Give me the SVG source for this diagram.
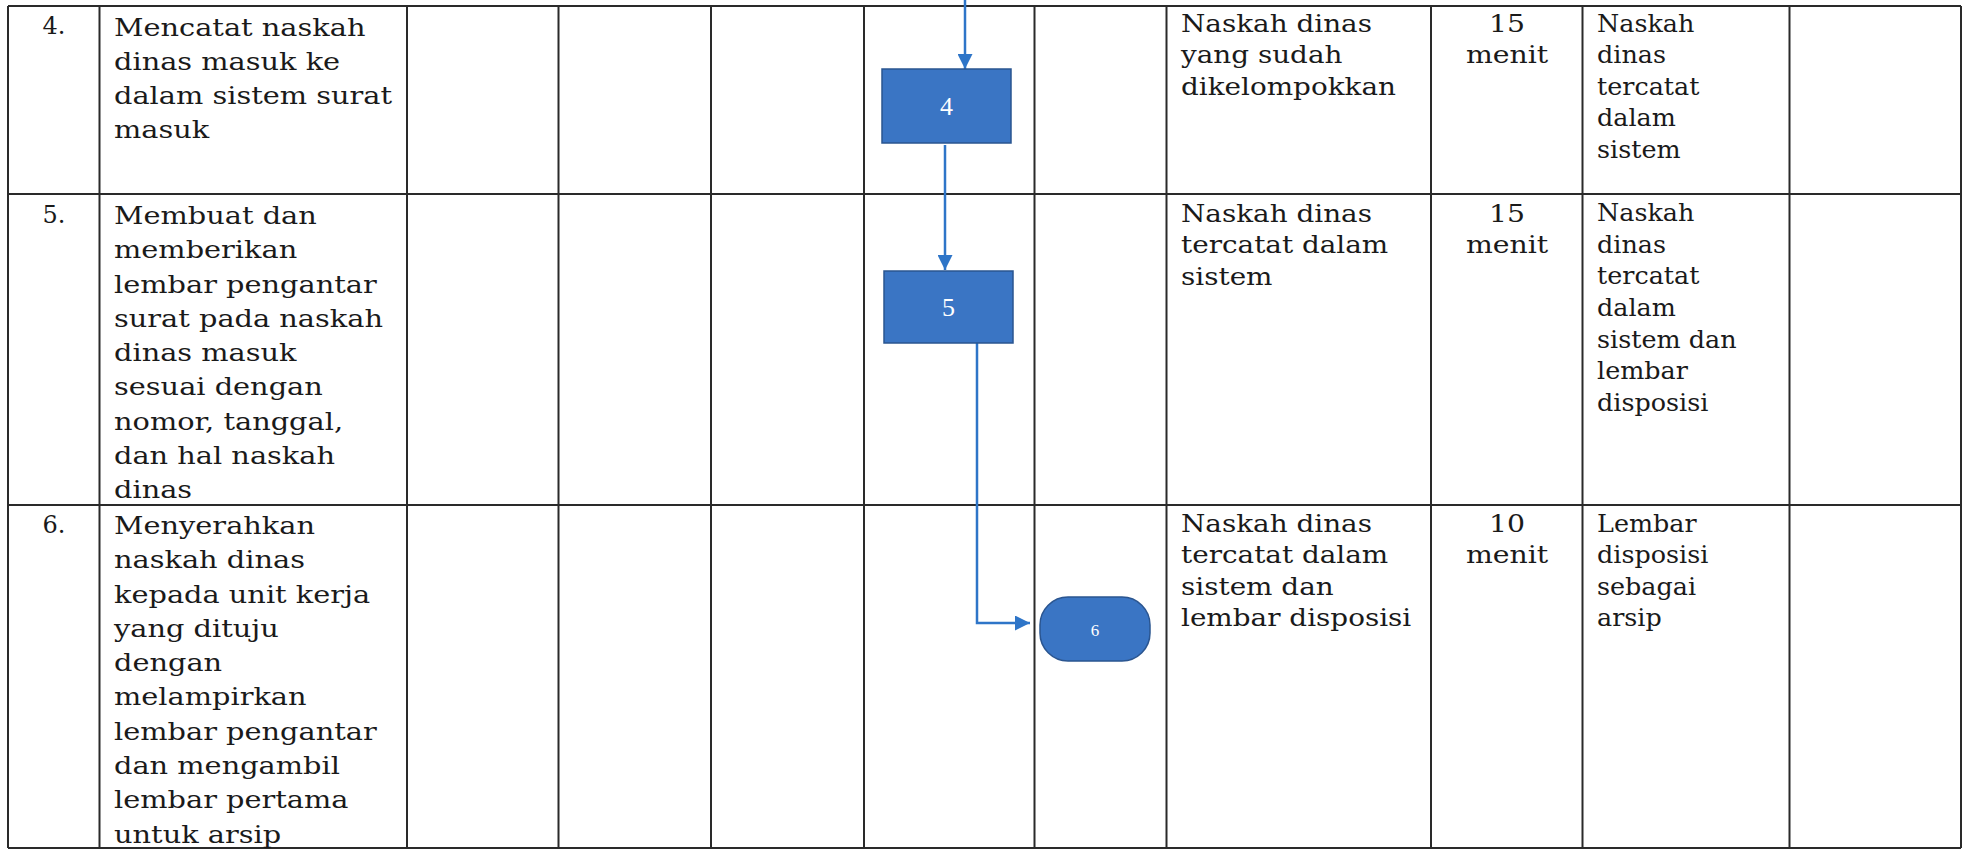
<svg xmlns="http://www.w3.org/2000/svg" width="1964" height="851" viewBox="0 0 1964 851">
<defs>
<style>
.grid line{stroke:#2a2a2a;stroke-width:2}
.t{font-family:"DejaVu Serif","Liberation Serif",serif;font-size:24px;fill:#1a1a1a}
.c{text-anchor:middle}
.box{fill:#3a75c4;stroke:#2a5590;stroke-width:1.5}
.lbl{font-family:"Liberation Serif",serif;fill:#fff;text-anchor:middle}
.con{fill:none;stroke:#2e75c8;stroke-width:2.5}
</style>
<marker id="ah" viewBox="0 0 10 10" refX="10" refY="5" markerWidth="6" markerHeight="6" markerUnits="strokeWidth" orient="auto">
<path d="M0,0 L10,5 L0,10 z" fill="#2e75c8"/>
</marker>
</defs>
<rect width="1964" height="851" fill="#fff"/>
<g id="table" class="grid">
<line x1="8" y1="6" x2="1961" y2="6"/>
<line x1="8" y1="194" x2="1961" y2="194"/>
<line x1="8" y1="505" x2="1961" y2="505"/>
<line x1="8" y1="848" x2="1961" y2="848"/>
<line x1="8" y1="6" x2="8" y2="848"/>
<line x1="99.5" y1="6" x2="99.5" y2="848"/>
<line x1="407" y1="6" x2="407" y2="848"/>
<line x1="558.5" y1="6" x2="558.5" y2="848"/>
<line x1="711" y1="6" x2="711" y2="848"/>
<line x1="864" y1="6" x2="864" y2="848"/>
<line x1="1034.5" y1="6" x2="1034.5" y2="848"/>
<line x1="1166.5" y1="6" x2="1166.5" y2="848"/>
<line x1="1431" y1="6" x2="1431" y2="848"/>
<line x1="1582.5" y1="6" x2="1582.5" y2="848"/>
<line x1="1789.5" y1="6" x2="1789.5" y2="848"/>
<line x1="1961" y1="6" x2="1961" y2="848"/>
</g>
<g id="numbers" class="t c">
<text x="54" y="34">4.</text>
<text x="54" y="223">5.</text>
<text x="54" y="533">6.</text>
</g>
<g id="activities">
<text class="t" transform="matrix(1.2 0 0 1 114 0)"><tspan x="0" y="36">Mencatat naskah</tspan><tspan x="0" y="70.5">dinas masuk ke</tspan><tspan x="0" y="104.5">dalam sistem surat</tspan><tspan x="0" y="138.5">masuk</tspan></text>
<text class="t" transform="matrix(1.2 0 0 1 114 0)"><tspan x="0" y="224">Membuat dan</tspan><tspan x="0" y="258.3">memberikan</tspan><tspan x="0" y="292.6">lembar pengantar</tspan><tspan x="0" y="326.9">surat pada naskah</tspan><tspan x="0" y="361.2">dinas masuk</tspan><tspan x="0" y="395.5">sesuai dengan</tspan><tspan x="0" y="429.8">nomor, tanggal,</tspan><tspan x="0" y="464.1">dan hal naskah</tspan><tspan x="0" y="498.4">dinas</tspan></text>
<text class="t" transform="matrix(1.2 0 0 1 114 0)"><tspan x="0" y="534">Menyerahkan</tspan><tspan x="0" y="568.3">naskah dinas</tspan><tspan x="0" y="602.6">kepada unit kerja</tspan><tspan x="0" y="636.9">yang dituju</tspan><tspan x="0" y="671.2">dengan</tspan><tspan x="0" y="705.5">melampirkan</tspan><tspan x="0" y="739.8">lembar pengantar</tspan><tspan x="0" y="774.1">dan mengambil</tspan><tspan x="0" y="808.4">lembar pertama</tspan><tspan x="0" y="842.7">untuk arsip</tspan></text>
</g>
<g id="inputs">
<text class="t" transform="matrix(1.16 0 0 1 1181 0)"><tspan x="0" y="32">Naskah dinas</tspan><tspan x="0" y="63.3">yang sudah</tspan><tspan x="0" y="94.6">dikelompokkan</tspan></text>
<text class="t" transform="matrix(1.16 0 0 1 1181 0)"><tspan x="0" y="222">Naskah dinas</tspan><tspan x="0" y="253.5">tercatat dalam</tspan><tspan x="0" y="285">sistem</tspan></text>
<text class="t" transform="matrix(1.16 0 0 1 1181 0)"><tspan x="0" y="532">Naskah dinas</tspan><tspan x="0" y="563.5">tercatat dalam</tspan><tspan x="0" y="595">sistem dan</tspan><tspan x="0" y="626.5">lembar disposisi</tspan></text>
</g>
<g id="times">
<text class="t c" transform="matrix(1.18 0 0 1 1507 0)"><tspan x="0" y="32">15</tspan><tspan x="0" y="63.3">menit</tspan></text>
<text class="t c" transform="matrix(1.18 0 0 1 1507 0)"><tspan x="0" y="222">15</tspan><tspan x="0" y="253.5">menit</tspan></text>
<text class="t c" transform="matrix(1.18 0 0 1 1507 0)"><tspan x="0" y="532">10</tspan><tspan x="0" y="563.5">menit</tspan></text>
</g>
<g id="outputs">
<text class="t" transform="matrix(1.06 0 0 1 1597 0)"><tspan x="0" y="32">Naskah</tspan><tspan x="0" y="63.5">dinas</tspan><tspan x="0" y="95">tercatat</tspan><tspan x="0" y="126.5">dalam</tspan><tspan x="0" y="158">sistem</tspan></text>
<text class="t" transform="matrix(1.06 0 0 1 1597 0)"><tspan x="0" y="221">Naskah</tspan><tspan x="0" y="252.7">dinas</tspan><tspan x="0" y="284.4">tercatat</tspan><tspan x="0" y="316.1">dalam</tspan><tspan x="0" y="347.8">sistem dan</tspan><tspan x="0" y="379.5">lembar</tspan><tspan x="0" y="411.2">disposisi</tspan></text>
<text class="t" transform="matrix(1.06 0 0 1 1597 0)"><tspan x="0" y="532">Lembar</tspan><tspan x="0" y="563.5">disposisi</tspan><tspan x="0" y="595">sebagai</tspan><tspan x="0" y="626.5">arsip</tspan></text>
</g>
<g id="connectors">
<line class="con" x1="965" y1="0" x2="965" y2="69" marker-end="url(#ah)"/>
<line class="con" x1="945" y1="145" x2="945" y2="270" marker-end="url(#ah)"/>
<polyline class="con" points="977,343 977,623 1030,623" marker-end="url(#ah)"/>
</g>
<g id="node4">
<rect class="box" x="882" y="69" width="129" height="74"/>
<text class="lbl" x="946.5" y="115" font-size="26">4</text>
</g>
<g id="node5">
<rect class="box" x="884" y="271" width="129" height="72"/>
<text class="lbl" x="948.5" y="316" font-size="26">5</text>
</g>
<g id="node6">
<rect class="box" x="1040" y="597" width="110" height="64" rx="28" ry="28"/>
<text class="lbl" x="1095" y="636" font-size="17">6</text>
</g>
</svg>
